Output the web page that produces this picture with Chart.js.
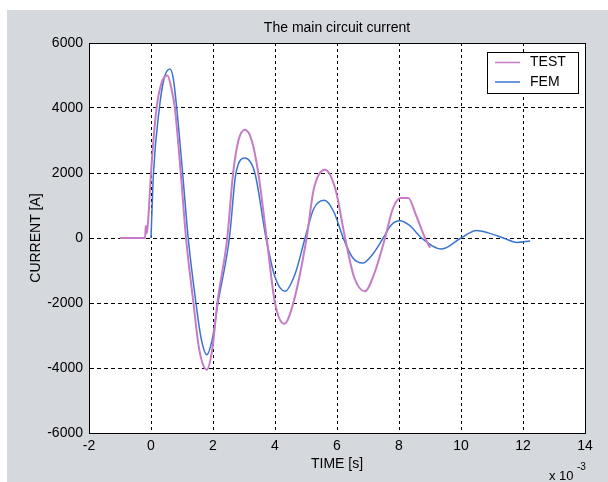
<!DOCTYPE html>
<html>
<head>
<meta charset="utf-8">
<script src="https://cdn.jsdelivr.net/npm/chart.js@4/dist/chart.umd.min.js"></script>
<style>
  body { margin: 0; background: #fff; }
  #wrap { width: 608px; height: 482px; }
</style>
</head>
<body>
<div id="wrap"><canvas id="mainCurrentChart" width="608" height="482"></canvas></div>
<script>
// time is in ms (axis shows x 10^-3 s)
const testTime = [-1.0, -0.19, -0.17, -0.13, -0.08, 0.0, 0.18, 0.35, 0.53, 0.68, 0.77, 0.96, 1.13, 1.37, 1.55, 1.80, 1.98, 2.14, 2.46, 2.65, 2.82, 3.03, 3.25, 3.46, 3.73, 4.0, 4.30, 4.59, 5.02, 5.25, 5.61, 5.95, 6.26, 6.55, 6.90, 7.20, 7.55, 7.80, 8.05, 8.30, 8.55, 8.84, 9.0];
const testCurrent = [0, 0, 380, 150, 700, 2000, 4000, 4800, 5000, 4500, 4000, 2000, 0, -2000, -3400, -4050, -3400, -2000, 0, 2000, 3000, 3330, 3000, 2000, 0, -2000, -2640, -2000, 0, 1500, 2100, 1500, 0, -1200, -1640, -1100, 0, 900, 1230, 1230, 700, 0, -300];

const femTime = [0.0, 0.03, 0.08, 0.27, 0.42, 0.61, 0.72, 0.83, 1.02, 1.2, 1.45, 1.62, 1.80, 1.98, 2.16, 2.53, 2.74, 3.03, 3.35, 3.71, 4.0, 4.32, 4.65, 4.97, 5.25, 5.59, 5.90, 6.20, 6.50, 6.83, 7.15, 7.49, 7.75, 8.03, 8.35, 8.73, 9.38, 10.0, 10.5, 10.9, 11.37, 11.8, 12.23];
const femCurrent = [0, 800, 2000, 4000, 4900, 5200, 4900, 4000, 2000, 0, -2000, -3100, -3590, -3100, -2000, 0, 2000, 2460, 2000, 0, -1200, -1640, -1100, 0, 900, 1160, 800, 0, -600, -770, -500, 0, 400, 530, 380, 0, -340, 0, 234, 150, 0, -135, -92];

const seriesLabels = ["TEST", "FEM"];
const seriesColors = ["#c57bc6", "#3b74cf"];
const xTicks = [-2, 0, 2, 4, 6, 8, 10, 12, 14];
const yTicks = [-6000, -4000, -2000, 0, 2000, 4000, 6000];

const FONT = "'Liberation Sans', Arial, sans-serif";

const toPoints = (xs, ys) => xs.map((x, i) => ({ x: x, y: ys[i] }));

const frame = {
    id: "frame",
    beforeDraw(chart) {
        const { ctx, chartArea: a } = chart;
        ctx.save();
        ctx.fillStyle = "#d5d8dd";
        ctx.fillRect(7, 10, chart.width - 7, chart.height - 10);
        ctx.fillStyle = "#ffffff";
        ctx.fillRect(a.left, a.top, a.right - a.left, a.bottom - a.top);
        ctx.restore();
    },
    afterDraw(chart) {
        const { ctx, chartArea: a } = chart;
        ctx.save();
        ctx.strokeStyle = "#000";
        ctx.lineWidth = 1;
        ctx.strokeRect(a.left + 0.5, a.top + 0.5, a.right - a.left, a.bottom - a.top);

        // legend box, top right inside the axes
        ctx.fillStyle = "#fff";
        ctx.fillRect(487, 52, 91, 41);
        ctx.strokeRect(487.5, 52.5, 91, 41);
        ctx.font = "14px " + FONT;
        ctx.textBaseline = "middle";
        ctx.textAlign = "left";
        seriesLabels.forEach((lab, i) => {
            const y = 62.5 + i * 19.5;
            ctx.strokeStyle = seriesColors[i];
            ctx.lineWidth = 1.5;
            ctx.beginPath();
            ctx.moveTo(495, y);
            ctx.lineTo(520, y);
            ctx.stroke();
            ctx.fillStyle = "#000";
            ctx.fillText(lab, 530, y);
        });

        // exponent label
        ctx.fillStyle = "#000";
        ctx.font = "13px " + FONT;
        ctx.textBaseline = "alphabetic";
        ctx.fillText("x 10", 549, 480);
        ctx.font = "10px " + FONT;
        ctx.fillText("-3", 577, 470);
        ctx.restore();
    },
};

const data = {
    datasets: [
        {
            label: seriesLabels[0],
            data: toPoints(testTime, testCurrent),
            borderColor: seriesColors[0],
            backgroundColor: seriesColors[0],
            borderWidth: 2,
        },
        {
            label: seriesLabels[1],
            data: toPoints(femTime, femCurrent),
            borderColor: seriesColors[1],
            backgroundColor: seriesColors[1],
            borderWidth: 1.5,
        },
    ],
};

const config = {
    type: "line",
    data: data,
    options: {
        responsive: false,
        animation: false,
        layout: { padding: { left: 0, right: 23, top: 0, bottom: 0 } },
        elements: {
            point: { radius: 0 },
            line: { cubicInterpolationMode: "monotone" },
        },
        plugins: {
            legend: { display: false },
            tooltip: { enabled: false },
            title: {
                display: true,
                fullSize: false,
                text: "The main circuit current",
                color: "#000",
                font: { family: FONT, size: 14, weight: "normal" },
                padding: { top: 19.6, bottom: 6.6 },
            },
        },
        scales: {
            x: {
                type: "linear",
                min: -2,
                max: 14,
                afterBuildTicks: (scale) => { scale.ticks = xTicks.map((v) => ({ value: v })); },
                afterFit: (scale) => { scale.height = 49; },
                ticks: { color: "#000", font: { family: FONT, size: 14 }, padding: 5 },
                grid: { color: "#000", lineWidth: 1, drawTicks: false },
                border: { display: true, color: "#000", dash: [3, 3] },
                title: {
                    display: true,
                    text: "TIME [s]",
                    color: "#000",
                    font: { family: FONT, size: 14 },
                    padding: { top: 0, bottom: 9 },
                },
            },
            y: {
                min: -6000,
                max: 6000,
                afterBuildTicks: (scale) => { scale.ticks = yTicks.map((v) => ({ value: v })); },
                afterFit: (scale) => { scale.width = 89; },
                ticks: { color: "#000", font: { family: FONT, size: 14 }, padding: 6, callback: (v) => String(v) },
                grid: { color: "#000", lineWidth: 1, drawTicks: false },
                border: { display: true, color: "#000", dash: [4, 3] },
                title: {
                    display: true,
                    text: "CURRENT [A]",
                    color: "#000",
                    font: { family: FONT, size: 14 },
                    padding: { top: 28, bottom: 0 },
                },
            },
        },
    },
    plugins: [frame],
};

new Chart(document.getElementById("mainCurrentChart"), config);
</script>
</body>
</html>
